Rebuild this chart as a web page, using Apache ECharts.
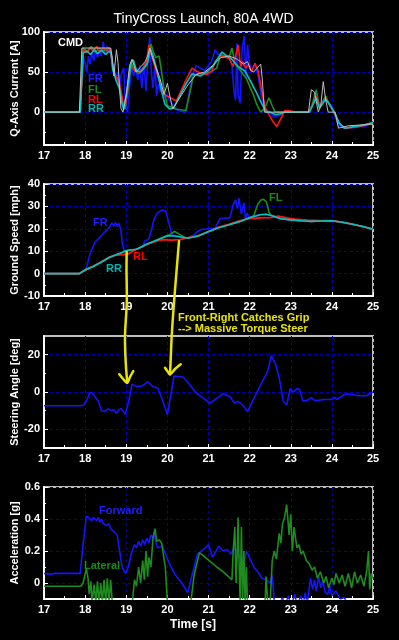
<!DOCTYPE html>
<html>
<head>
<meta charset="utf-8">
<script src="https://cdn.jsdelivr.net/npm/echarts@6/dist/echarts.min.js"></script>
<style>
html,body{margin:0;padding:0;background:#000;}
#chart{width:399px;height:640px;}
</style>
</head>
<body>
<div id="chart"></div>
<script>
// ---------- data ----------
const timeTicks = [17, 18, 19, 20, 21, 22, 23, 24, 25];
const curTicks = [0, 50, 100];
const spdTicks = [-10, 0, 10, 20, 30, 40];
const steerTicks = [-20, 0, 20];
const accTicks = [0, 0.2, 0.4, 0.6];

// Q-axis current [A]  ([time s, value])
const cmdCur = [[17,0],[17.86,0],[17.92,80],[18.62,80],[18.66,68],[18.7,45],[18.76,78],[18.8,62],[18.87,5],[18.92,0],[19.0,22],[19.08,58],[19.14,66],[19.24,50],[19.34,56],[19.45,62],[19.52,70],[19.57,80],[19.64,68],[19.72,56],[19.82,42],[19.92,22],[20.0,36],[20.06,20],[20.13,4],[20.3,18],[20.5,34],[20.7,47],[20.9,50],[21.1,58],[21.3,68],[21.5,70],[21.7,66],[21.85,60],[21.95,63],[22.03,52],[22.1,50],[22.18,55],[22.27,60],[22.31,40],[22.36,0],[23.43,0],[23.5,28],[23.58,25],[23.67,0],[23.73,8],[23.79,38],[23.85,15],[23.91,0],[24.08,0],[24.16,-20],[24.4,-17],[25,-15]];
const frCur = [[17,0],[17.87,0],[17.95,68],[18.0,62],[18.04,50],[18.08,70],[18.12,60],[18.17,74],[18.21,64],[18.26,78],[18.3,68],[18.35,80],[18.39,70],[18.44,88],[18.48,72],[18.53,82],[18.58,74],[18.62,80],[18.66,52],[18.7,60],[18.75,42],[18.8,50],[18.84,30],[18.88,48],[18.94,55],[18.98,10],[19.03,0],[19.08,30],[19.13,58],[19.18,45],[19.23,55],[19.28,40],[19.33,58],[19.38,30],[19.43,62],[19.48,26],[19.52,60],[19.57,94],[19.61,50],[19.65,30],[19.7,58],[19.74,20],[19.78,35],[19.83,25],[19.88,38],[19.93,18],[19.98,22],[20.05,15],[20.15,8],[20.25,2],[20.45,0],[20.55,30],[20.62,48],[20.7,58],[20.8,55],[20.9,52],[21.0,58],[21.08,64],[21.16,78],[21.24,72],[21.34,70],[21.5,70],[21.57,58],[21.62,26],[21.66,15],[21.69,86],[21.72,22],[21.77,11],[21.82,80],[21.87,95],[21.91,42],[21.95,84],[21.99,63],[22.05,51],[22.13,59],[22.2,47],[22.28,22],[22.36,5],[22.47,0],[22.6,-6],[22.72,-4],[22.85,0],[23.45,0],[23.52,9],[23.63,22],[23.7,7],[23.82,17],[23.95,9],[24.05,0],[24.15,-16],[24.3,-20],[24.55,-19],[24.8,-18],[25,-12]];
const flCur = [[17,0],[17.88,0],[17.95,80],[18.05,76],[18.15,82],[18.25,75],[18.35,80],[18.45,76],[18.55,80],[18.62,78],[18.68,52],[18.75,45],[18.82,38],[18.9,12],[18.97,4],[19.05,30],[19.12,62],[19.2,52],[19.3,48],[19.4,55],[19.5,58],[19.56,70],[19.6,85],[19.66,75],[19.72,68],[19.8,70],[19.86,50],[19.93,25],[20.0,8],[20.2,4],[20.45,2],[20.55,25],[20.63,45],[20.75,48],[20.9,48],[21.05,50],[21.2,55],[21.3,72],[21.5,68],[21.57,80],[21.65,60],[21.8,50],[21.92,42],[22.02,30],[22.09,22],[22.17,10],[22.27,0],[22.37,5],[22.47,18],[22.55,8],[22.62,0],[23.45,0],[23.52,9],[23.62,28],[23.7,5],[23.85,20],[23.95,8],[24.05,0],[24.15,-12],[24.3,-20],[24.6,-18],[25,-13]];
const rlCur = [[17,0],[17.88,0],[17.96,78],[18.05,74],[18.12,80],[18.2,76],[18.28,82],[18.36,75],[18.45,80],[18.52,76],[18.6,80],[18.66,62],[18.72,47],[18.8,40],[18.86,30],[18.93,10],[18.97,5],[19.05,35],[19.1,58],[19.2,52],[19.3,50],[19.4,54],[19.5,64],[19.55,84],[19.6,74],[19.7,56],[19.8,40],[19.9,22],[20.0,20],[20.14,16],[20.22,14],[20.31,24],[20.45,40],[20.6,55],[20.71,51],[20.85,48],[20.96,47],[21.08,51],[21.16,63],[21.3,70],[21.5,67],[21.6,57],[21.72,84],[21.78,57],[21.83,63],[21.9,55],[21.97,59],[22.05,51],[22.13,61],[22.21,51],[22.29,28],[22.37,7],[22.47,-3],[22.57,-12],[22.66,-18],[22.78,-6],[22.85,2],[22.95,2],[23.1,0],[23.43,0],[23.52,8],[23.63,20],[23.7,7],[23.85,17],[23.97,7],[24.08,-3],[24.18,-14],[24.32,-20],[24.5,-19],[24.75,-17],[25,-14]];
const rrCur = [[17,0],[17.88,0],[17.95,74],[18.05,76],[18.13,72],[18.22,78],[18.3,73],[18.4,77],[18.5,72],[18.58,76],[18.63,74],[18.68,52],[18.75,40],[18.83,30],[18.9,10],[18.94,3],[19.03,30],[19.12,62],[19.17,65],[19.25,52],[19.35,50],[19.45,56],[19.52,62],[19.58,80],[19.64,72],[19.74,54],[19.84,30],[19.94,10],[20.05,4],[20.15,5],[20.3,20],[20.45,35],[20.6,48],[20.8,45],[21.0,52],[21.1,57],[21.2,65],[21.33,75],[21.45,70],[21.55,67],[21.72,57],[21.89,51],[22.05,36],[22.17,24],[22.29,11],[22.41,0],[22.5,0],[22.62,-3],[22.75,-2],[22.85,0],[23.45,0],[23.52,7],[23.62,18],[23.7,5],[23.85,16],[23.97,8],[24.08,-2],[24.18,-14],[24.32,-20],[24.55,-18],[24.8,-16],[25,-13]];

// Ground speed [mph]
const frSpd = [[17,0],[17.86,0],[18.0,1.8],[18.04,3],[18.12,8.9],[18.24,14],[18.35,16],[18.45,18],[18.53,19.5],[18.6,21],[18.65,22.6],[18.7,21.2],[18.74,22.8],[18.78,21],[18.82,22.5],[18.87,19.5],[18.9,14],[18.95,10],[19.25,10.9],[19.4,12],[19.45,14.5],[19.55,15.5],[19.62,20],[19.67,24],[19.75,27],[19.88,28.4],[19.96,27.8],[20.04,22.5],[20.1,18],[20.17,16.6],[20.5,15.8],[20.62,17],[20.74,18.8],[20.82,19.7],[21.06,20.1],[21.16,20.3],[21.28,24.5],[21.52,25],[21.6,30.7],[21.66,32.9],[21.7,29],[21.74,33.7],[21.8,26.6],[21.86,31.7],[21.9,24.5],[21.94,27],[21.98,25],[22.1,25.5],[22.25,26.3],[22.4,26.5],[22.55,25.8],[22.75,24.5],[23.0,24],[23.25,23.6],[23.5,23.3],[23.75,23.5],[24.0,23.6],[24.25,22.9],[24.5,22],[24.75,21],[25,19.8]];
const flSpd = [[17,0],[17.86,0],[18.0,1.8],[18.1,2.6],[18.2,3.3],[18.4,5.3],[18.6,7.4],[18.75,8.4],[19.0,10.2],[19.25,10.9],[19.5,13],[19.75,15],[20.0,17],[20.08,17.6],[20.17,18.9],[20.3,17.5],[20.45,15.9],[20.75,16.8],[21.0,18.8],[21.25,20.6],[21.5,21.8],[21.75,23.2],[22.0,25],[22.1,25.8],[22.15,28.5],[22.2,31],[22.27,32.8],[22.33,33.2],[22.41,32],[22.47,27.5],[22.52,26],[22.75,24.6],[23.0,24],[23.25,23.6],[23.5,23.3],[23.75,23.5],[24.0,23.6],[24.25,22.9],[24.5,22],[24.75,21],[25,19.8]];
const rlSpd = [[17,0],[17.86,0],[18.0,1.5],[18.2,3.3],[18.4,5.3],[18.6,7.4],[18.75,8.2],[18.9,8.5],[19.05,8.8],[19.2,10.4],[19.5,13],[19.75,14.6],[19.9,15.2],[20.1,14.9],[20.3,15.2],[20.5,15.9],[20.75,16.9],[21.0,18.6],[21.25,20.8],[21.5,22],[21.75,23.5],[22.0,24.6],[22.25,24.9],[22.5,25],[22.7,25.6],[22.9,24.9],[23.1,24.3],[23.4,23.9],[23.7,23.6],[24.0,23.6],[24.25,23],[24.5,22.1],[24.75,21],[25,19.8]];
const rrSpd = [[17,0],[17.86,0],[18.0,1.6],[18.2,3.2],[18.4,5.2],[18.6,7.3],[18.75,8.4],[18.9,9.4],[19.0,10.3],[19.25,10.9],[19.5,13.2],[19.75,15],[20.0,16.9],[20.2,16.8],[20.5,15.8],[20.75,16.8],[21.0,18.8],[21.25,20.5],[21.5,21.8],[21.75,23.2],[22.0,24.9],[22.25,26.3],[22.4,26.5],[22.55,25.8],[22.75,24.5],[23.0,24],[23.25,23.6],[23.5,23.3],[23.75,23.5],[24.0,23.6],[24.25,22.9],[24.5,22],[24.75,21],[25,19.8]];

// Steering angle [deg]
const steer = [[17,-7.4],[17.9,-7.4],[17.96,-7],[18.05,-4],[18.12,0],[18.2,-1.5],[18.32,-5],[18.4,-10],[18.48,-10.5],[18.56,-9],[18.64,-10],[18.7,-9.5],[18.76,-11.5],[18.82,-9.5],[18.88,-9],[18.98,-12],[19.06,-5],[19.14,4.2],[19.24,3],[19.36,3],[19.44,4],[19.52,5.5],[19.64,3],[19.77,2],[19.89,-5],[20.0,-12],[20.1,0.4],[20.16,8.5],[20.38,8],[20.54,4],[20.7,-0.5],[20.86,-3],[21.03,-6],[21.2,-3.5],[21.35,-1],[21.52,-2.5],[21.64,-6],[21.7,-5],[21.78,-6],[21.85,-7.5],[21.95,-10.5],[22.07,-5],[22.27,4],[22.43,10.5],[22.53,19.4],[22.63,15],[22.72,7.5],[22.82,-5],[22.9,-7],[22.99,2],[23.04,0],[23.09,0.5],[23.15,1.8],[23.21,1.5],[23.3,-5],[23.4,-4.5],[23.5,-3],[23.58,-4.5],[23.66,-4.5],[23.8,-4],[23.98,-4],[24.08,-3],[24.13,-4],[24.19,-3],[24.3,-1.5],[24.35,-1],[24.5,-1.5],[24.64,-2],[24.84,-2],[25,0]];

// Acceleration [g]
const fwdAcc = [[17,0.06],[17.2,0.055],[17.25,0.06],[17.88,0.06],[17.95,0.24],[18.03,0.42],[18.08,0.41],[18.12,0.4],[18.16,0.39],[18.2,0.41],[18.24,0.4],[18.28,0.39],[18.32,0.41],[18.36,0.38],[18.4,0.4],[18.44,0.37],[18.48,0.38],[18.53,0.36],[18.58,0.37],[18.62,0.34],[18.66,0.35],[18.7,0.32],[18.74,0.33],[18.78,0.3],[18.82,0.23],[18.9,0.1],[18.98,0.06],[19.05,0.1],[19.12,0.18],[19.2,0.24],[19.25,0.22],[19.3,0.26],[19.35,0.23],[19.4,0.27],[19.45,0.24],[19.5,0.28],[19.55,0.25],[19.6,0.3],[19.65,0.28],[19.68,0.32],[19.72,0.25],[19.76,0.22],[19.88,0.23],[20.05,0.12],[20.17,0.06],[20.35,0.0],[20.5,-0.06],[20.6,0.05],[20.73,0.18],[20.92,0.22],[21.0,0.24],[21.1,0.16],[21.25,0.23],[21.35,0.2],[21.45,0.21],[21.55,0.18],[21.62,0.22],[21.7,0.2],[21.76,0.16],[21.86,0.12],[21.92,0.2],[22.03,0.14],[22.1,0.1],[22.2,0.07],[22.3,0.03],[22.4,0.02],[22.5,0.0],[22.55,0.05],[22.6,-0.12],[22.7,-0.15],[22.8,-0.09],[22.85,-0.14],[22.95,-0.08],[23.0,-0.15],[23.1,-0.07],[23.15,-0.14],[23.25,-0.08],[23.3,-0.14],[23.35,-0.06],[23.4,-0.13],[23.48,0.03],[23.53,-0.04],[23.58,0.02],[23.62,-0.05],[23.68,0.04],[23.73,-0.03],[23.78,0.01],[23.84,-0.06],[23.9,-0.07],[23.95,-0.02],[24.0,-0.08],[24.1,-0.05],[24.2,-0.1],[24.3,-0.09],[24.4,-0.14],[24.7,-0.13],[25,-0.12]];
const latAcc = [[17,-0.02],[17.5,-0.02],[17.9,-0.02],[17.95,0.0],[18.03,0.09],[18.07,0.03],[18.1,-0.07],[18.14,0.01],[18.17,-0.12],[18.22,-0.01],[18.26,-0.12],[18.3,0.01],[18.34,-0.12],[18.38,0.0],[18.42,-0.12],[18.46,0.02],[18.5,-0.12],[18.54,0.03],[18.58,-0.12],[18.62,0.02],[18.66,-0.12],[18.75,-0.15],[19.05,-0.15],[19.15,-0.12],[19.2,0.02],[19.25,-0.02],[19.3,0.1],[19.35,0.0],[19.4,0.14],[19.44,0.02],[19.48,0.2],[19.52,0.04],[19.55,0.16],[19.6,0.1],[19.65,0.28],[19.7,0.34],[19.74,0.26],[19.8,0.27],[19.86,0.25],[19.95,0.1],[20.0,-0.12],[20.5,-0.15],[20.58,-0.1],[20.65,0.05],[20.78,0.19],[21.06,0.13],[21.2,0.1],[21.36,0.07],[21.57,0.02],[21.6,0.2],[21.64,0.35],[21.67,0.0],[21.7,0.2],[21.72,0.41],[21.75,0.05],[21.77,-0.12],[21.8,0.35],[21.83,-0.1],[21.86,0.2],[21.89,-0.12],[21.92,0.1],[21.95,-0.15],[22.3,-0.15],[22.38,-0.1],[22.4,0.04],[22.44,-0.12],[22.5,-0.12],[22.55,0.14],[22.6,0.2],[22.65,0.15],[22.72,0.31],[22.76,0.25],[22.8,0.37],[22.85,0.41],[22.9,0.49],[22.93,0.4],[22.96,0.3],[23.0,0.43],[23.04,0.2],[23.08,0.35],[23.15,0.22],[23.2,0.24],[23.25,0.18],[23.3,0.2],[23.38,0.14],[23.45,0.12],[23.52,0.08],[23.58,0.1],[23.65,0.03],[23.72,0.07],[23.8,0.0],[23.86,0.04],[23.92,-0.03],[24.0,0.03],[24.05,-0.01],[24.1,0.06],[24.18,0.0],[24.25,0.05],[24.32,-0.02],[24.4,0.06],[24.48,-0.03],[24.55,0.07],[24.62,0.0],[24.7,0.05],[24.78,-0.02],[24.85,0.08],[24.89,0.2],[24.92,-0.04],[24.96,0.06],[25,0.03]];

// ---------- chart ----------
const FONT = 'Liberation Sans, Arial, sans-serif';
const C_FR = '#1414ff', C_FL = '#1e8c1e', C_RL = '#ff1414', C_RR = '#00c4c4', C_CMD = '#bdbdbd';
const GRID_LINE = {show: true, lineStyle: {color: '#0000b4', type: [3, 3], width: 1}};

const grids = [
  {left: 44, top: 32, width: 329, height: 113},
  {left: 44, top: 184, width: 329, height: 112},
  {left: 44, top: 336, width: 329, height: 112},
  {left: 44, top: 487, width: 329, height: 112}
].map(g => Object.assign({show: true, backgroundColor: '#000', borderColor: '#bdbdbd', borderWidth: 2,
  containLabel: false, outerBoundsMode: 'none'}, g));

function xAx(i) {
  const ax = {
    gridIndex: i, type: 'value', min: 17, max: 25, interval: 1,
    axisLine: {show: true, onZero: false, lineStyle: {color: '#fff', width: 2}},
    axisTick: {show: true, inside: true, length: 4, lineStyle: {color: '#fff'}},
    minorTick: {show: true, splitNumber: 2, length: 3, lineStyle: {color: '#fff'}},
    axisLabel: {color: '#fff', fontWeight: 'bold', fontSize: 11, fontFamily: FONT, margin: 5},
    splitLine: GRID_LINE
  };
  if (i === 3) {
    ax.name = 'Time [s]';
    ax.nameLocation = 'middle';
    ax.nameGap = 20;
    ax.nameMoveOverlap = false;
    ax.nameTextStyle = {color: '#fff', fontWeight: 'bold', fontSize: 12, fontFamily: FONT, padding: [0, 31, 0, 0]};
  }
  return ax;
}
function yAx(i, name, min, max, ticks) {
  return {
    gridIndex: i, type: 'value', min: min, max: max,
    name: name, nameLocation: 'middle', nameGap: 24, nameMoveOverlap: false,
    nameTextStyle: {color: '#fff', fontWeight: 'bold', fontSize: 11, fontFamily: FONT},
    axisLine: {show: true, onZero: false, lineStyle: {color: '#fff', width: 2}},
    axisTick: {show: true, inside: true, length: 4, lineStyle: {color: '#fff'}, customValues: ticks},
    axisLabel: {color: '#fff', fontWeight: 'bold', fontSize: 11, fontFamily: FONT, margin: 4, customValues: ticks},
    splitLine: GRID_LINE
  };
}
function yMinor(i, min, max, ticks) {
  return {
    gridIndex: i, type: 'value', min: min, max: max, position: 'left',
    axisLine: {show: false}, axisLabel: {show: false}, splitLine: {show: false},
    axisTick: {show: true, inside: true, length: 2, lineStyle: {color: '#fff'}, customValues: ticks}
  };
}
function line(xi, yi, data, color, w, z) {
  return {type: 'line', xAxisIndex: xi, yAxisIndex: yi, data: data, showSymbol: false, symbol: 'none',
    lineStyle: {color: color, width: w}, itemStyle: {color: color}, z: z || 2, animation: false, clip: true};
}
function txt(x, y, s, color, size, align) {
  return {type: 'text', x: x, y: y, z: 100,
    style: {text: s, fill: color, font: 'bold ' + (size || 11) + 'px ' + FONT, textAlign: align || 'left', textVerticalAlign: 'middle'}};
}
function curve(pts, w) {
  return {type: 'polyline', z: 100, shape: {points: pts, smooth: 0.35},
    style: {stroke: '#e8e400', lineWidth: w || 2.5, fill: null, lineCap: 'round', lineJoin: 'round'}};
}

const option = {
  backgroundColor: '#000',
  animation: false,
  grid: grids,
  xAxis: [xAx(0), xAx(1), xAx(2), xAx(3)],
  yAxis: [
    yAx(0, 'Q-Axis Current [A]', -41, 100, curTicks),
    Object.assign(yAx(1, 'Ground Speed [mph]', -10, 40, null), {interval: 10,
      minorTick: {show: true, splitNumber: 2, length: 2, lineStyle: {color: '#fff'}}}),
    yAx(2, 'Steering Angle [deg]', -30, 30, steerTicks),
    yAx(3, 'Acceleration [g]', -0.1, 0.6, accTicks),
    yMinor(0, -41, 100, [-25, 25, 75]),
    yMinor(2, -30, 30, [-10, 10]),
    yMinor(3, -0.1, 0.6, [0.1, 0.3, 0.5])
  ],
  series: [
    line(0, 0, frCur, C_FR, 1.6, 2),
    line(0, 0, flCur, C_FL, 1.6, 3),
    line(0, 0, rlCur, C_RL, 1.6, 4),
    line(0, 0, rrCur, C_RR, 1.6, 5),
    line(0, 0, cmdCur, C_CMD, 1, 6),
    line(1, 1, frSpd, C_FR, 1.6, 2),
    line(1, 1, flSpd, C_FL, 1.6, 3),
    line(1, 1, rlSpd, C_RL, 1.8, 4),
    line(1, 1, rrSpd, C_RR, 1.6, 5),
    line(2, 2, steer, C_FR, 1.6, 2),
    line(3, 3, fwdAcc, C_FR, 1.6, 2),
    line(3, 3, latAcc, C_FL, 1.6, 3)
  ],
  graphic: [
    {type: 'text', x: 203.5, y: 19, z: 100, style: {text: 'TinyCross Launch, 80A 4WD', fill: '#fff',
      font: '14px ' + FONT, textAlign: 'center', textVerticalAlign: 'middle'}},
    txt(58, 43, 'CMD', '#ffffff', 11),
    txt(88, 79, 'FR', '#2020ff', 11),
    txt(88, 89.5, 'FL', '#1a8a1a', 11),
    txt(88, 100, 'RL', '#ff0000', 11),
    txt(88, 109, 'RR', '#00b4b4', 11),
    txt(93, 223, 'FR', '#2020ff', 11),
    txt(133, 257, 'RL', '#ff0000', 11),
    txt(106, 269, 'RR', '#00b4b4', 11),
    txt(269, 198, 'FL', '#1a8a1a', 11),
    txt(99, 510.5, 'Forward', '#2020ff', 11),
    txt(84, 566, 'Lateral', '#1a8a1a', 11),
    txt(178, 318, 'Front-Right Catches Grip', '#e8e400', 11),
    txt(178, 329, '--> Massive Torque Steer', '#e8e400', 11),
    curve([[126.7, 252], [126.5, 269], [126.8, 302], [125, 336], [125.7, 362], [127.3, 382.7]]),
    curve([[119.3, 374.3], [124, 380], [127.3, 382.7], [130, 377], [133.3, 371]]),
    curve([[179, 241], [176.7, 269], [174, 302.7], [171.7, 336], [170.7, 359], [170, 374.3]]),
    curve([[165, 367.7], [168, 372], [170, 374.3], [175, 369], [180.7, 364.3]])
  ]
};

const chart = echarts.init(document.getElementById('chart'), null, {renderer: 'canvas'});
chart.setOption(option);
</script>
</body>
</html>
